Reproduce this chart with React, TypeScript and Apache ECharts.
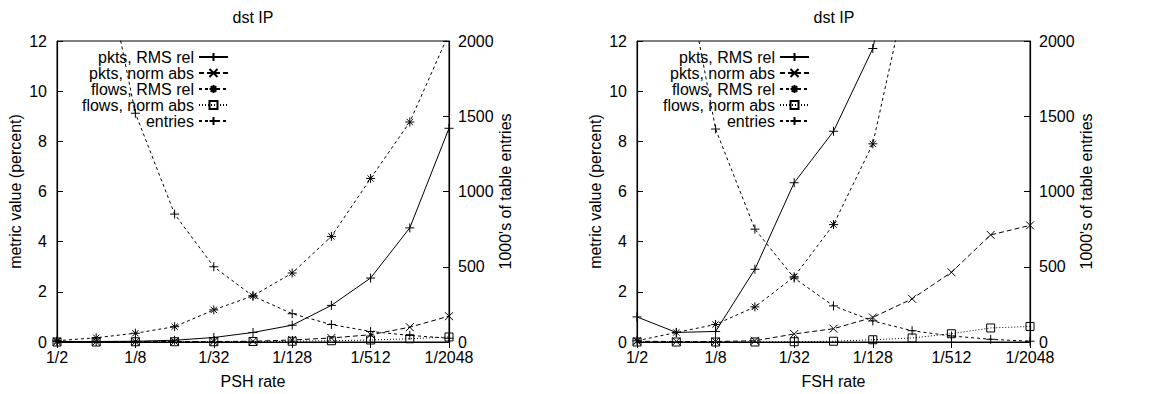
import React, { useEffect, useRef } from "react";
import * as echarts from "echarts";

const categories = ["1/2", "1/4", "1/8", "1/16", "1/32", "1/64", "1/128", "1/256", "1/512", "1/1024", "1/2048"];
const leftTicks = [0, 2, 4, 6, 8, 10, 12];
const rightTicks = [0, 500, 1000, 1500, 2000];

const seriesNames = ["pkts, RMS rel", "pkts, norm abs", "flows, RMS rel", "flows, norm abs", "entries"];

// PSH panel
const pshPktsRms = [0.02, 0.02, 0.03, 0.07, 0.18, 0.38, 0.67, 1.46, 2.55, 4.55, 8.52];
const pshPktsNorm = [0.01, 0.01, 0.01, 0.02, 0.02, 0.03, 0.08, 0.16, 0.29, 0.59, 1.03];
const pshFlowsRms = [0.05, 0.17, 0.35, 0.61, 1.28, 1.84, 2.75, 4.21, 6.52, 8.77, 12.3];
const pshFlowsNorm = [0.0, 0.0, 0.01, 0.01, 0.01, 0.02, 0.03, 0.05, 0.08, 0.13, 0.2];
const pshEntries = [4800, 2800, 1520, 850, 500, 305, 188, 116, 70, 44, 25];

// FSH panel
const fshPktsRms = [1.0, 0.38, 0.42, 2.9, 6.35, 8.4, 11.7, 19, null, null, null];
const fshPktsNorm = [0.03, 0.02, 0.02, 0.05, 0.32, 0.53, 0.98, 1.72, 2.78, 4.27, 4.65];
const fshFlowsRms = [0.05, 0.38, 0.7, 1.4, 2.6, 4.68, 7.9, 15, null, null, null];
const fshFlowsNorm = [0.0, 0.0, 0.0, 0.0, 0.01, 0.03, 0.09, 0.16, 0.33, 0.56, 0.62];
const fshEntries = [5000, 2800, 1415, 750, 425, 240, 140, 75, 40, 18, 5];

const FONT = "Liberation Sans";
const FS = 16;

const SYM_PLUS = "path://M0,5L10,5M5,0L5,10";
const SYM_X = "path://M0,0L10,10M10,0L0,10";
const SYM_STAR = "path://M0,5L10,5M5,0L5,10M1.5,1.5L8.5,8.5M8.5,1.5L1.5,8.5";

const styles = [
  { symbol: SYM_PLUS, size: 9, dash: "solid" as any },
  { symbol: SYM_X, size: 8, dash: [5, 3] },
  { symbol: SYM_STAR, size: 9, dash: [3, 3] },
  { symbol: "rect", size: 8, dash: [1, 2] },
  { symbol: SYM_PLUS, size: 9, dash: [3, 3] },
];

function mk(name: string, data: (number | null)[], xIdx: number, yIdx: number, st: any) {
  return {
    type: "line",
    name,
    data,
    xAxisIndex: xIdx,
    yAxisIndex: yIdx,
    symbol: st.symbol,
    symbolSize: st.size,
    smooth: false,
    connectNulls: false,
    clip: true,
    lineStyle: { color: "#000", width: 1, type: st.dash },
    itemStyle: { color: "transparent", borderColor: "#000", borderWidth: 1 },
    emphasis: { disabled: true },
  };
}

function xAxes(gridIndex: number, name: string) {
  return [
    {
      type: "category",
      gridIndex,
      data: categories,
      boundaryGap: false,
      position: "bottom",
      name,
      nameLocation: "middle",
      nameGap: 31,
      nameTextStyle: { fontFamily: FONT, fontSize: FS, color: "#000" },
      axisLine: { show: true, lineStyle: { color: "#000", width: 1.2 } },
      axisTick: { show: true, inside: true, length: 6, interval: 1, lineStyle: { color: "#000" } },
      axisLabel: { interval: 1, margin: 7, fontFamily: FONT, fontSize: FS, color: "#000" },
      splitLine: { show: false },
    },
    {
      type: "category",
      gridIndex,
      data: categories,
      boundaryGap: false,
      position: "top",
      axisLine: { show: true, lineStyle: { color: "#000", width: 1.2 } },
      axisTick: { show: true, inside: true, length: 6, interval: 1, lineStyle: { color: "#000" } },
      axisLabel: { show: false },
      splitLine: { show: false },
    },
  ];
}

function yAxes(gridIndex: number) {
  return [
    {
      type: "value",
      gridIndex,
      position: "left",
      min: leftTicks[0],
      max: leftTicks[leftTicks.length - 1],
      interval: leftTicks[1] - leftTicks[0],
      name: "metric value (percent)",
      nameLocation: "middle",
      nameRotate: 90,
      nameGap: 34,
      nameTextStyle: { fontFamily: FONT, fontSize: FS, color: "#000" },
      axisLine: { show: true, lineStyle: { color: "#000", width: 1.2 } },
      axisTick: { show: true, inside: true, length: 6, lineStyle: { color: "#000" } },
      axisLabel: { margin: 10, fontFamily: FONT, fontSize: FS, color: "#000", formatter: (v: number) => String(v) },
      splitLine: { show: false },
    },
    {
      type: "value",
      gridIndex,
      position: "right",
      min: rightTicks[0],
      max: rightTicks[rightTicks.length - 1],
      interval: rightTicks[1] - rightTicks[0],
      name: "1000's of table entries",
      nameLocation: "middle",
      nameRotate: 90,
      nameGap: 48,
      nameTextStyle: { fontFamily: FONT, fontSize: FS, color: "#000" },
      axisLine: { show: true, lineStyle: { color: "#000", width: 1.2 } },
      axisTick: { show: true, inside: true, length: 6, lineStyle: { color: "#000" } },
      axisLabel: { margin: 9, fontFamily: FONT, fontSize: FS, color: "#000", formatter: (v: number) => String(v) },
      splitLine: { show: false },
    },
  ];
}

function legend(right: number) {
  return {
    orient: "vertical",
    align: "right",
    right,
    top: 49,
    itemWidth: 29,
    itemHeight: 10,
    itemGap: 0,
    selectedMode: false,
    data: seriesNames,
    textStyle: { fontFamily: FONT, fontSize: FS, color: "#000", padding: [0, 0, 0, 0] },
    padding: 0,
  };
}

export default function App() {
  const ref = useRef<HTMLDivElement>(null);
  useEffect(() => {
    if (!ref.current) return;
    const chart = echarts.init(ref.current, undefined, { renderer: "svg" });
    const psh = [pshPktsRms, pshPktsNorm, pshFlowsRms, pshFlowsNorm, pshEntries];
    const fsh = [fshPktsRms, fshPktsNorm, fshFlowsRms, fshFlowsNorm, fshEntries];
    const series: any[] = [];
    psh.forEach((d, i) => series.push(mk(seriesNames[i], d, 0, i === 4 ? 1 : 0, styles[i])));
    fsh.forEach((d, i) => series.push(mk(seriesNames[i], d, 2, i === 4 ? 3 : 2, styles[i])));
    chart.setOption({
      animation: false,
      backgroundColor: "#fff",
      textStyle: { fontFamily: FONT },
      graphic: [
        { type: "text", x: 253, y: 17, style: { text: "dst IP", fill: "#000", font: `${FS}px "${FONT}"`, textAlign: "center", textVerticalAlign: "middle" } },
        { type: "text", x: 834, y: 17, style: { text: "dst IP", fill: "#000", font: `${FS}px "${FONT}"`, textAlign: "center", textVerticalAlign: "middle" } },
      ],
      grid: [
        { left: 57, top: 41, width: 392, height: 306, show: true, borderColor: "#000", borderWidth: 1, backgroundColor: "transparent" },
        { left: 637, top: 41, width: 393, height: 306, show: true, borderColor: "#000", borderWidth: 1, backgroundColor: "transparent" },
      ],
      xAxis: [...xAxes(0, "PSH rate"), ...xAxes(1, "FSH rate")],
      yAxis: [...yAxes(0), ...yAxes(1)],
      legend: [legend(1150 - 229), legend(1150 - 810)],
      series,
    });
    return () => chart.dispose();
  }, []);
  return <div ref={ref} style={{ position: "fixed", left: 0, top: 0, width: 1150, height: 394, background: "#fff" }} />;
}
